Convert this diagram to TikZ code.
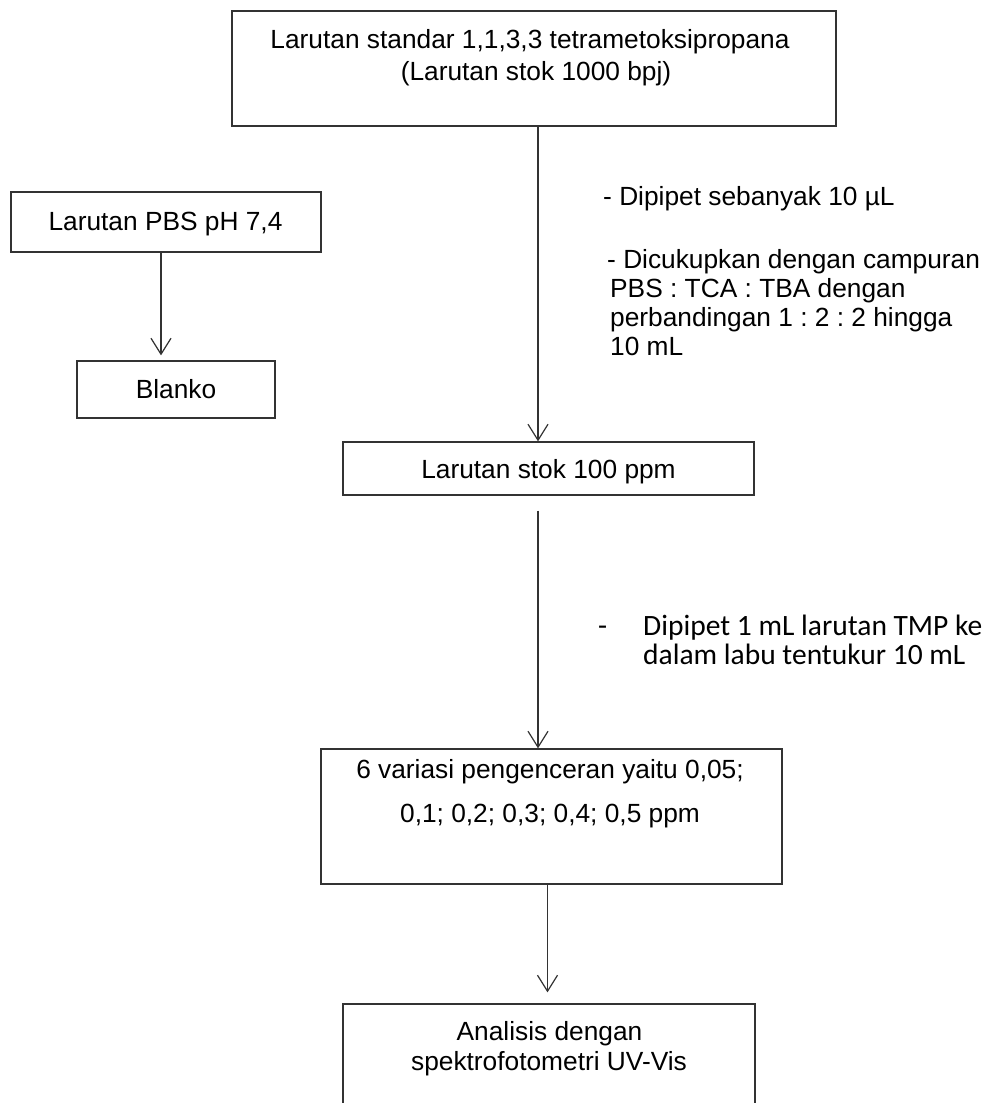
\documentclass[tikz,border=0pt]{standalone}
\usepackage{fontspec}
\usetikzlibrary{arrows.meta}
\newfontfamily\arialfam{Liberation Sans}
\newfontfamily\calibrifam{Carlito}
\newcommand\arialtxt{\arialfam\fontsize{26.3pt}{30pt}\selectfont\frenchspacing}
\newcommand\calibritxt{\calibrifam\fontsize{29.5pt}{30pt}\selectfont\frenchspacing}
\definecolor{linecol}{HTML}{333333}
\tikzset{
  box/.style={draw=linecol, line width=1.3pt, inner sep=0pt, rectangle},
  lbl/.style={font=\arialtxt, inner sep=0pt, text=black},
  clbl/.style={font=\calibritxt, inner sep=0pt, text=black},
  conn/.style={draw=linecol, line width=1.2pt, -{Straight Barb[length=16pt,width=20pt,line width=1.2pt]}}
}
\begin{document}
\begin{tikzpicture}[x=1pt,y=-1pt]
\useasboundingbox (0,0) rectangle (992,1103);
\clip (0,0) rectangle (992,1103);
\fill[white] (0,0) rectangle (992,1103);
% boxes
\node[box, minimum width=604pt, minimum height=115pt] (top) at (534,68.5) {};
\node[box, minimum width=310pt, minimum height=60pt] (pbs) at (166,222) {};
\node[box, minimum width=198pt, minimum height=57pt] (blanko) at (176,389.5) {};
\node[box, minimum width=411pt, minimum height=53pt] (stok) at (548.5,468.5) {};
\node[box, minimum width=461pt, minimum height=135pt] (var) at (551.5,816.5) {};
\node[box, minimum width=412pt, minimum height=146pt] (ana) at (549,1077) {};
% box texts
\node[lbl, anchor=base] (top1) at (530,48) {Larutan standar 1,1,3,3 tetrametoksipropana};
\node[lbl, anchor=base] (top2) at (536,80) {(Larutan stok 1000 bpj)};
\node[lbl, anchor=base] (pbst) at (165.5,230) {Larutan PBS pH 7,4};
\node[lbl, anchor=base] (blankot) at (176,398) {Blanko};
\node[lbl, anchor=base] (stokt) at (548.5,478) {Larutan stok 100 ppm};
\node[lbl, anchor=base] (var1) at (550,778) {6 variasi pengenceran yaitu 0,05;};
\node[lbl, anchor=base] (var2) at (550,822) {0,1; 0,2; 0,3; 0,4; 0,5 ppm};
\node[lbl, anchor=base] (ana1) at (549.5,1040) {Analisis dengan};
\node[lbl, anchor=base] (ana2) at (549,1070) {spektrofotometri UV-Vis};
% side notes
\node[lbl, anchor=base west] (n1) at (603,205) {- Dipipet sebanyak 10 µL};
\node[lbl, anchor=base west] (n2a) at (607,268) {- Dicukupkan dengan campuran};
\node[lbl, anchor=base west] (n2b) at (610,297) {PBS : TCA : TBA dengan};
\node[lbl, anchor=base west] (n2c) at (610,326) {perbandingan 1 : 2 : 2 hingga};
\node[lbl, anchor=base west] (n2d) at (610,355) {10 mL};
\node[clbl, anchor=base west] (n3dash) at (598,635) {-};
\node[clbl, anchor=base west] (n3a) at (643,635) {Dipipet 1 mL larutan TMP ke};
\node[clbl, anchor=base west] (n3b) at (643,664) {dalam labu tentukur 10 mL};
% connectors
\draw[conn] ([xshift=4pt]top.south) -- ([xshift=-10.5pt]stok.north);
\draw[conn] ([xshift=-10.5pt,yshift=-15pt]stok.south) -- ([xshift=-13.5pt]var.north);
\draw[conn] ([xshift=-4pt]var.south) -- ([xshift=-1.5pt,yshift=11pt]ana.north);
\draw[conn] ([xshift=-5pt]pbs.south) -- ([xshift=-15pt,yshift=5pt]blanko.north);
\end{tikzpicture}
\end{document}
